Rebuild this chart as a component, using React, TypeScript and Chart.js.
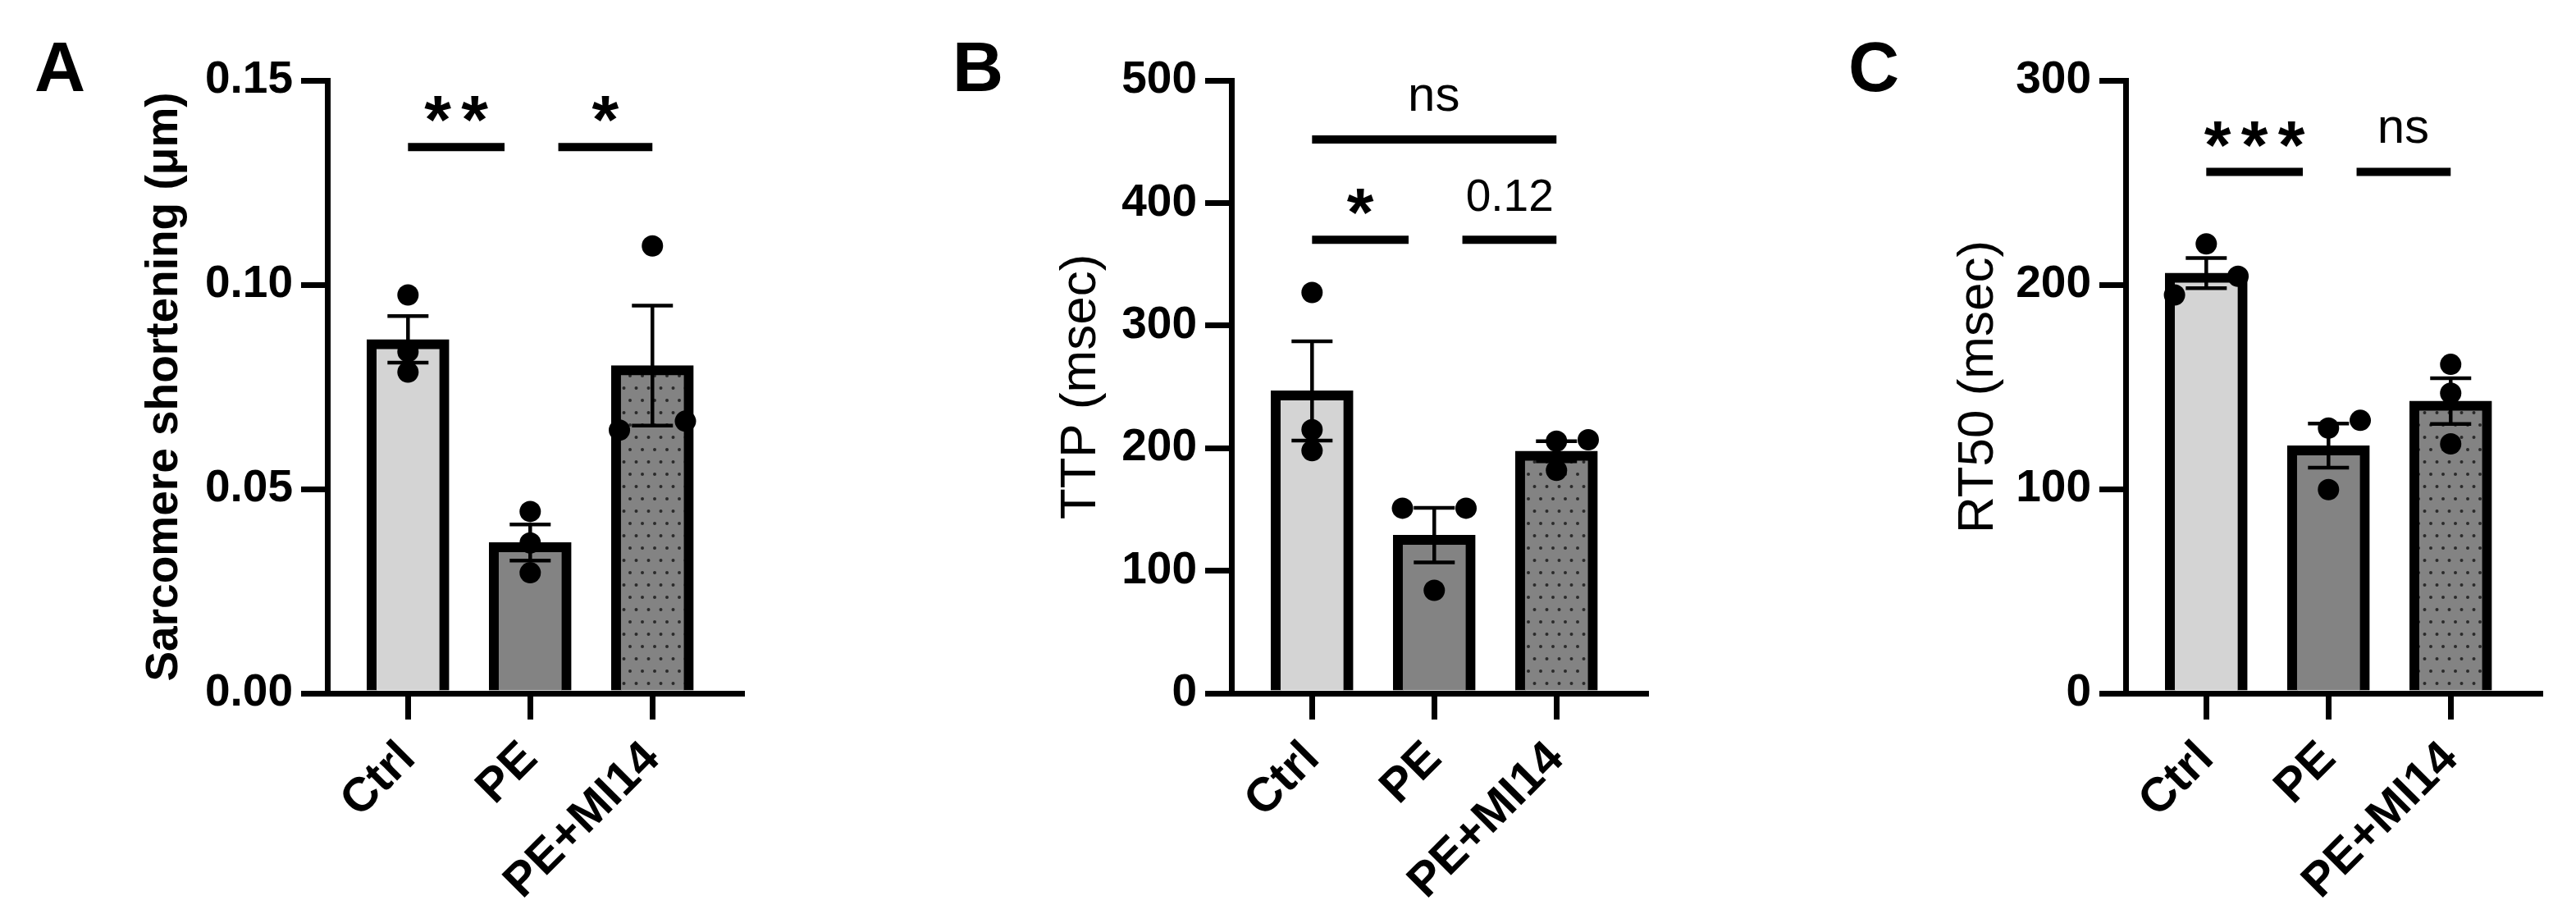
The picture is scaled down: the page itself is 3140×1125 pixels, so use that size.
import React, { useEffect, useRef } from 'react';
import { Chart, registerables } from 'chart.js';

Chart.register(...registerables);

const FONT = '"Liberation Sans", Arial, Helvetica, sans-serif';
const H = 1125;
const PLOT_W = 505;

const categories = ['Ctrl', 'PE', 'PE+MI14'];

// Panel A: Sarcomere shortening (µm)
const meanA = [0.0866, 0.0369, 0.0802];
const semA = [0.0057, 0.0044, 0.0147];
const pointsA = [
  [0.0975, 0.0836, 0.0786],
  [0.0445, 0.0368, 0.0295],
  [0.1095, 0.0644, 0.0666],
];
const jitterA = [
  [0, 0, 0],
  [0, 0, 0],
  [0, -0.27, 0.27],
];
const yTicksA = { max: 0.15, step: 0.05, decimals: 2 };
const sigA = [
  { x1: 0, x2: 0.79, y: 0.1337, label: '**' },
  { x1: 1.23, x2: 2.0, y: 0.1337, label: '*' },
];

// Panel B: TTP (msec)
const meanB = [246.7, 129, 197.5];
const semB = [40.5, 22.3, 8.2];
const pointsB = [
  [327, 215, 198],
  [151, 151, 84],
  [205.7, 206.8, 181.9],
];
const jitterB = [
  [0, 0, 0],
  [-0.26, 0.26, 0],
  [0, 0.26, 0],
];
const yTicksB = { max: 500, step: 100, decimals: 0 };
const sigB = [
  { x1: 0, x2: 2.0, y: 451.8, label: 'ns' },
  { x1: 0, x2: 0.79, y: 370, label: '*' },
  { x1: 1.23, x2: 2.0, y: 370, label: '0.12' },
];

// Panel C: RT50 (msec)
const meanC = [205.7, 121.2, 143];
const semC = [7.4, 10.8, 11.2];
const pointsC = [
  [220, 195, 204.1],
  [129.8, 133.6, 99.7],
  [161, 146.9, 122.1],
];
const jitterC = [
  [0, -0.26, 0.26],
  [0, 0.26, 0],
  [0, 0, 0],
];
const yTicksC = { max: 300, step: 100, decimals: 0 };
const sigC = [
  { x1: 0, x2: 0.79, y: 255.2, label: '***' },
  { x1: 1.23, x2: 2.0, y: 255.2, label: 'ns' },
];

type Sig = { x1: number; x2: number; y: number; label: string };
type PanelDef = {
  letter: string;
  left: number;
  width: number;
  yWidth: number;
  letterX: number;
  title: string;
  titleSize: number;
  titleBold: boolean;
  titleCenter: number;
  means: number[];
  sems: number[];
  points: number[][];
  jitter: number[][];
  yTicks: { max: number; step: number; decimals: number };
  sig: Sig[];
};

const panels: PanelDef[] = [
  {
    letter: 'A', left: 0, width: 1050, yWidth: 399, letterX: 42,
    title: 'Sarcomere shortening (μm)', titleSize: 55, titleBold: true, titleCenter: 201,
    means: meanA, sems: semA, points: pointsA, jitter: jitterA, yTicks: yTicksA, sig: sigA,
  },
  {
    letter: 'B', left: 1050, width: 1100, yWidth: 451, letterX: 111,
    title: 'TTP (msec)', titleSize: 62, titleBold: false, titleCenter: 268,
    means: meanB, sems: semB, points: pointsB, jitter: jitterB, yTicks: yTicksB, sig: sigB,
  },
  {
    letter: 'C', left: 2150, width: 990, yWidth: 441, letterX: 103,
    title: 'RT50 (msec)', titleSize: 62, titleBold: false, titleCenter: 262,
    means: meanC, sems: semC, points: pointsC, jitter: jitterC, yTicks: yTicksC, sig: sigC,
  },
];

function makePattern(ctx: CanvasRenderingContext2D): CanvasPattern | string {
  const tile = document.createElement('canvas');
  tile.width = 15;
  tile.height = 30;
  const t = tile.getContext('2d');
  if (!t) return '#838383';
  t.fillStyle = '#838383';
  t.fillRect(0, 0, 15, 30);
  t.fillStyle = '#2a2a2a';
  t.beginPath();
  t.arc(3, 8, 2, 0, Math.PI * 2);
  t.arc(10.5, 23, 2, 0, Math.PI * 2);
  t.fill();
  return ctx.createPattern(tile, 'repeat') || '#838383';
}

function drawCenteredText(
  ctx: CanvasRenderingContext2D,
  text: string,
  cx: number,
  cy: number,
  font: string
) {
  ctx.font = font;
  const m = ctx.measureText(text);
  const asc = m.actualBoundingBoxAscent;
  const desc = m.actualBoundingBoxDescent;
  const left = m.actualBoundingBoxLeft;
  const right = m.actualBoundingBoxRight;
  const inkW = left + right;
  ctx.textAlign = 'left';
  ctx.textBaseline = 'alphabetic';
  ctx.fillText(text, cx - inkW / 2 + left, cy + (asc - desc) / 2);
}

function makeAnnot(p: PanelDef) {
  return {
    id: 'annot' + p.letter,
    afterDatasetDraw(chart: any, args: any) {
      if (args.index !== 0) return;
      const { ctx } = chart;
      const x = chart.scales.x;
      const y = chart.scales.y;
      ctx.save();
      ctx.strokeStyle = '#000';
      ctx.lineWidth = 4.5;
      ctx.lineCap = 'butt';
      p.means.forEach((m, i) => {
        const cx = x.getPixelForValue(i);
        const top = y.getPixelForValue(m + p.sems[i]);
        const bot = y.getPixelForValue(m - p.sems[i]);
        ctx.beginPath();
        ctx.moveTo(cx, top);
        ctx.lineTo(cx, bot);
        ctx.moveTo(cx - 25, top);
        ctx.lineTo(cx + 25, top);
        ctx.moveTo(cx - 25, bot);
        ctx.lineTo(cx + 25, bot);
        ctx.stroke();
      });
      ctx.restore();
    },
    afterDraw(chart: any) {
      const { ctx } = chart;
      const x = chart.scales.x;
      const y = chart.scales.y;
      ctx.save();
      ctx.fillStyle = '#000';
      ctx.strokeStyle = '#000';
      ctx.lineWidth = 10;
      ctx.lineCap = 'butt';
      p.sig.forEach((s) => {
        const px1 = x.getPixelForValue(s.x1);
        const px2 = x.getPixelForValue(s.x2);
        const py = y.getPixelForValue(s.y);
        ctx.beginPath();
        ctx.moveTo(px1, py);
        ctx.lineTo(px2, py);
        ctx.stroke();
        const cx = (px1 + px2) / 2;
        if (/^\*+$/.test(s.label)) {
          const n = s.label.length;
          const spacing = 45;
          for (let k = 0; k < n; k++) {
            const sx = cx + (k - (n - 1) / 2) * spacing;
            drawCenteredText(ctx, '*', sx, py - 46, `bold 84px ${FONT}`);
          }
        } else if (s.label === 'ns') {
          drawCenteredText(ctx, s.label, cx, py - 51, `60px ${FONT}`);
        } else {
          drawCenteredText(ctx, s.label, cx, py - 54, `55px ${FONT}`);
        }
      });
      ctx.font = `bold 86px ${FONT}`;
      ctx.textAlign = 'left';
      ctx.textBaseline = 'alphabetic';
      ctx.fillText(p.letter, p.letterX, 111);
      ctx.restore();
    },
  };
}

function Panel({ p }: { p: PanelDef }) {
  const ref = useRef<HTMLCanvasElement>(null);
  useEffect(() => {
    const canvas = ref.current;
    if (!canvas) return;
    const ctx = canvas.getContext('2d');
    if (!ctx) return;
    const pattern = makePattern(ctx);
    const scatterData: { x: number; y: number }[] = [];
    p.points.forEach((grp, i) => {
      grp.forEach((v, k) => scatterData.push({ x: i + p.jitter[i][k], y: v }));
    });
    const yTickFont = { family: FONT, size: 55, weight: 'bold' as const };
    const xTickFont = { family: FONT, size: 58, weight: 'bold' as const };
    const gridOpts = {
      display: true,
      drawOnChartArea: false,
      drawTicks: true,
      tickLength: 32,
      tickWidth: 7,
      tickColor: '#000',
      lineWidth: 7,
      color: '#000',
      offset: false,
    };
    const chart = new Chart(canvas, {
      type: 'bar',
      data: {
        datasets: [
          {
            type: 'bar',
            data: p.means.map((m, i) => ({ x: i, y: m })),
            backgroundColor: ['#d4d4d4', '#838383', pattern],
            borderColor: '#000',
            borderWidth: 12,
            barThickness: 100,
            borderSkipped: 'start',
            order: 1,
          } as any,
          {
            type: 'scatter',
            data: scatterData,
            pointRadius: 13,
            pointHoverRadius: 13,
            pointBackgroundColor: '#000',
            pointBorderWidth: 0,
            order: 0,
          } as any,
        ],
      },
      options: {
        responsive: false,
        animation: false,
        events: [],
        layout: {
          padding: { left: 0, right: p.width - p.yWidth - PLOT_W, top: 98, bottom: 0 },
        },
        plugins: {
          legend: { display: false },
          tooltip: { enabled: false },
        },
        scales: {
          x: {
            type: 'linear',
            min: -0.66,
            max: 2.73,
            offset: false,
            afterBuildTicks: (s: any) => {
              s.ticks = categories.map((_, i) => ({ value: i }));
            },
            afterFit: (s: any) => {
              s.height = H - 845;
            },
            grid: gridOpts,
            border: { display: true, color: '#000', width: 7 },
            ticks: {
              autoSkip: false,
              minRotation: 45,
              maxRotation: 45,
              padding: 14,
              color: '#000',
              font: xTickFont,
              callback: (v: any) => categories[Number(v)] ?? '',
            },
          } as any,
          y: {
            type: 'linear',
            min: 0,
            max: p.yTicks.max,
            afterFit: (s: any) => {
              s.width = p.yWidth;
            },
            grid: gridOpts,
            border: { display: true, color: '#000', width: 7 },
            ticks: {
              stepSize: p.yTicks.step,
              padding: 10,
              color: '#000',
              font: yTickFont,
              callback: (v: any) => Number(v).toFixed(p.yTicks.decimals),
            },
            title: {
              display: true,
              text: p.title,
              color: '#000',
              font: { family: FONT, size: p.titleSize, weight: p.titleBold ? 'bold' : 'normal' },
              padding: { top: p.titleCenter - (p.titleSize * 1.2) / 2, bottom: 0 },
            },
          } as any,
        },
      },
      plugins: [makeAnnot(p)],
    } as any);
    return () => chart.destroy();
  }, [p]);
  return (
    <canvas
      ref={ref}
      width={p.width}
      height={H}
      style={{ position: 'absolute', left: p.left, top: 0, width: p.width, height: H }}
    />
  );
}

export default function App() {
  return (
    <div
      style={{
        position: 'fixed',
        left: 0,
        top: 0,
        width: 3140,
        height: H,
        background: '#fff',
        overflow: 'hidden',
      }}
    >
      {panels.map((p) => (
        <Panel key={p.letter} p={p} />
      ))}
    </div>
  );
}
